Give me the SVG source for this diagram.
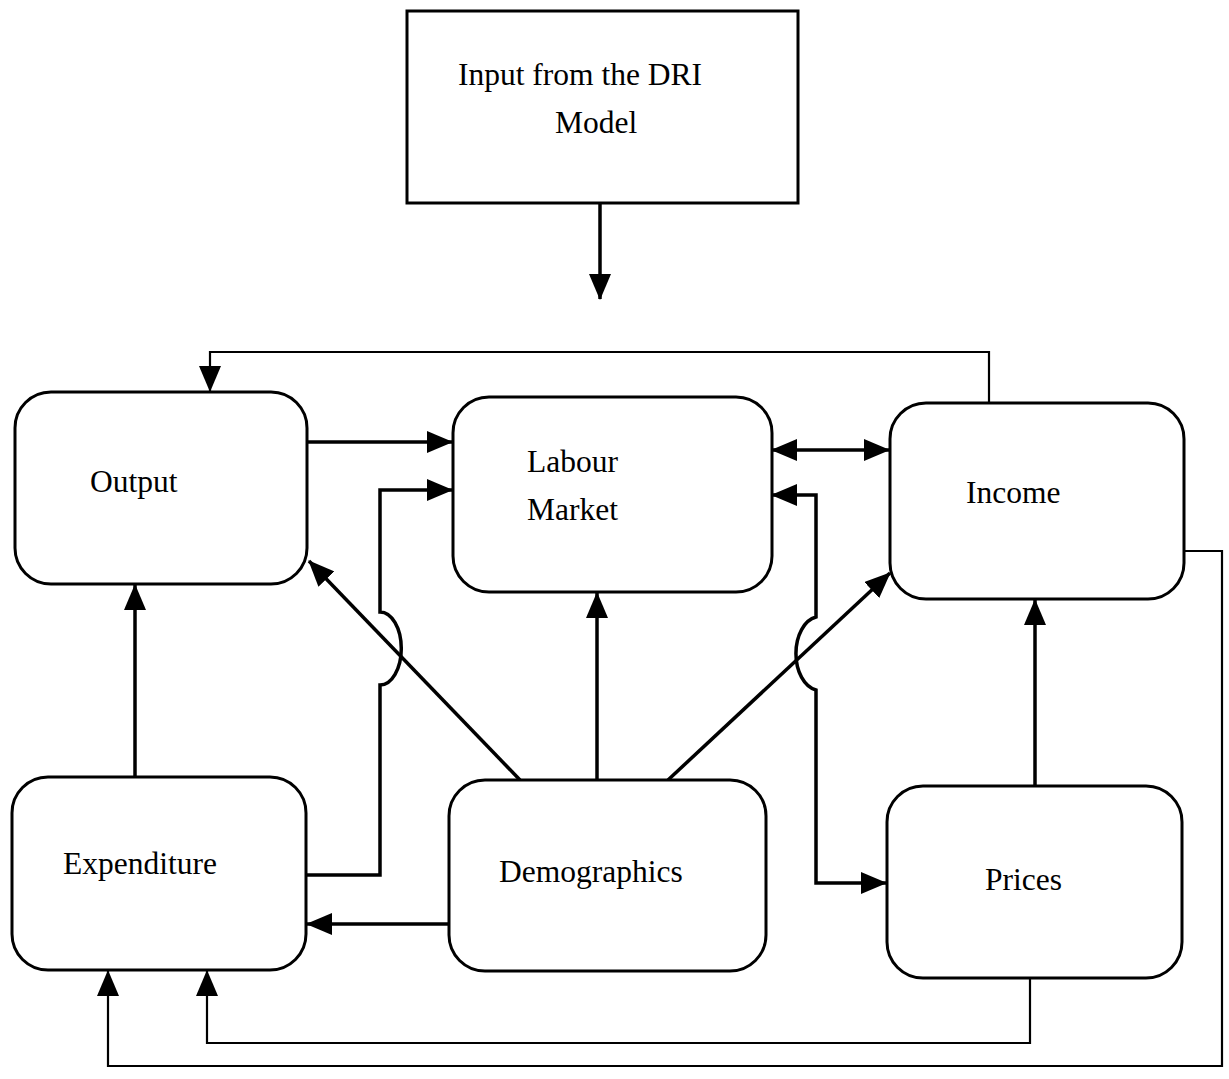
<svg xmlns="http://www.w3.org/2000/svg" width="1229" height="1079" viewBox="0 0 1229 1079">
<style>
.box{fill:#fff;stroke:#000;stroke-width:3}
.lbl{font-family:"Liberation Serif","Times New Roman",serif;font-size:31.5px;fill:#000}
.c{fill:none;stroke:#000;stroke-width:3.5}
.thin{fill:none;stroke:#000;stroke-width:2.2}
</style>
<defs>
<marker id="ah" viewBox="0 0 26 22" refX="25" refY="11" markerWidth="26" markerHeight="22" markerUnits="userSpaceOnUse" orient="auto-start-reverse">
<path d="M0,0 L26,11 L0,22 Z" fill="#000"/>
</marker>
</defs>
<rect width="1229" height="1079" fill="#fff"/>
<g id="connectors">
<path class="c" d="M600,203 V299" marker-end="url(#ah)"/>
<path class="thin" d="M989,403 V352 H210 V391" marker-end="url(#ah)"/>
<path class="c" d="M307,442 H452" marker-end="url(#ah)"/>
<path class="c" d="M306,875 H380 V685 A21 36 0 0 0 380 612 V490 H452" marker-end="url(#ah)"/>
<path class="c" d="M772,450 H889" marker-start="url(#ah)" marker-end="url(#ah)"/>
<path class="c" d="M772,495 H816 V617 A24 37 0 0 0 816 690 V883 H886" marker-start="url(#ah)" marker-end="url(#ah)"/>
<path class="c" d="M135,777 V585" marker-end="url(#ah)"/>
<path class="c" d="M597,780 V593" marker-end="url(#ah)"/>
<path class="c" d="M1035,786 V600" marker-end="url(#ah)"/>
<path class="c" d="M520,780 L309,561" marker-end="url(#ah)"/>
<path class="c" d="M668,780 L890,573" marker-end="url(#ah)"/>
<path class="c" d="M449,924 H307" marker-end="url(#ah)"/>
<path class="thin" d="M1030,978 V1043 H207 V971" marker-end="url(#ah)"/>
<path class="thin" d="M1184,551 H1222 V1066 H108 V971" marker-end="url(#ah)"/>
</g>
<g id="dri">
<rect class="box" x="407" y="11" width="391" height="192"/>
<text class="lbl" x="458" y="85">Input from the DRI</text>
<text class="lbl" x="555" y="133">Model</text>
</g>
<g id="output">
<rect class="box" x="15" y="392" width="292" height="192" rx="36"/>
<text class="lbl" x="90" y="492">Output</text>
</g>
<g id="labour">
<rect class="box" x="453" y="397" width="319" height="195" rx="36"/>
<text class="lbl" x="527" y="472">Labour</text>
<text class="lbl" x="527" y="520">Market</text>
</g>
<g id="income">
<rect class="box" x="890" y="403" width="294" height="196" rx="36"/>
<text class="lbl" x="966" y="503">Income</text>
</g>
<g id="expenditure">
<rect class="box" x="12" y="777" width="294" height="193" rx="36"/>
<text class="lbl" x="63" y="874">Expenditure</text>
</g>
<g id="demographics">
<rect class="box" x="449" y="780" width="317" height="191" rx="36"/>
<text class="lbl" x="499" y="882">Demographics</text>
</g>
<g id="prices">
<rect class="box" x="887" y="786" width="295" height="192" rx="36"/>
<text class="lbl" x="985" y="890">Prices</text>
</g>
</svg>
